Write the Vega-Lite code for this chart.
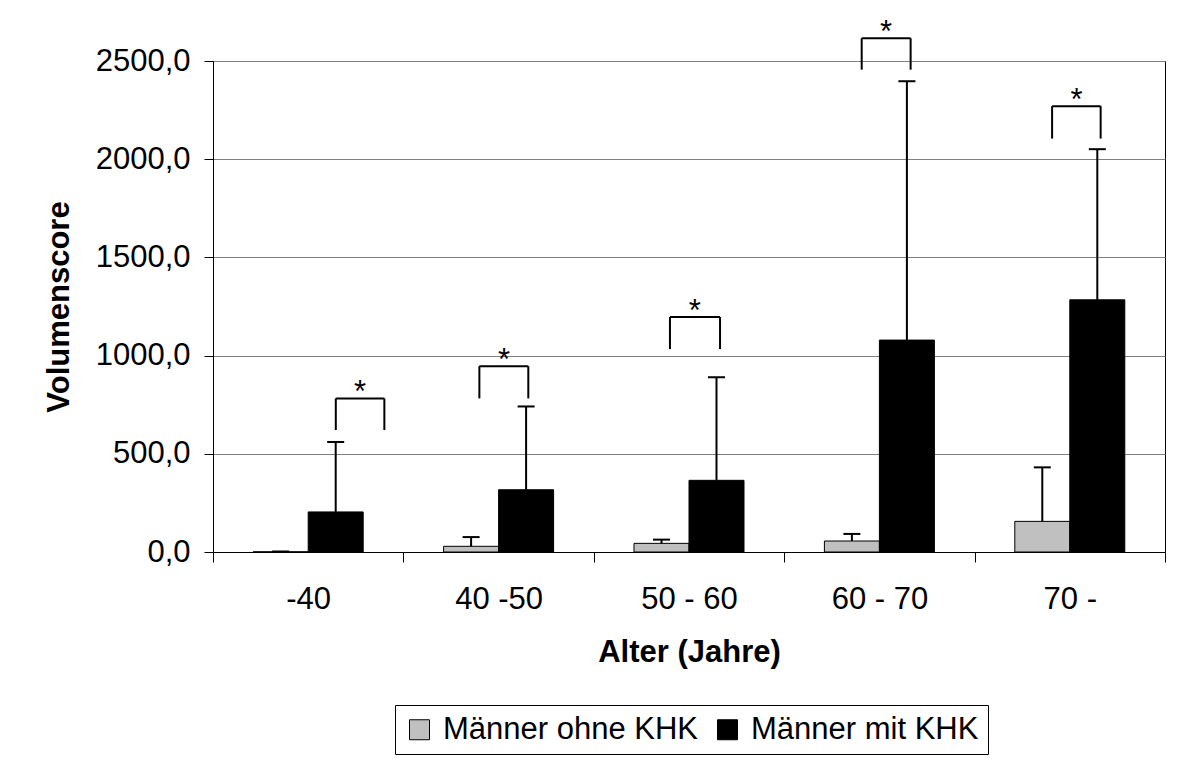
{
  "$schema": "https://vega.github.io/schema/vega-lite/v6.json",
  "width": 952,
  "height": 491,
  "autosize": "none",
  "padding": {"left": 213, "top": 61, "right": 12, "bottom": 213},
  "background": "white",
  "config": {
    "font": "Liberation Sans",
    "view": {"stroke": "#000", "strokeWidth": 1}
  },
  "datasets": {
    "bars": [
      {"age": "-40", "group": "Männer ohne KHK", "value": 1, "upper": 2},
      {"age": "-40", "group": "Männer mit KHK", "value": 204, "upper": 560},
      {"age": "40 -50", "group": "Männer ohne KHK", "value": 29, "upper": 76},
      {"age": "40 -50", "group": "Männer mit KHK", "value": 317, "upper": 741},
      {"age": "50 - 60", "group": "Männer ohne KHK", "value": 44, "upper": 63},
      {"age": "50 - 60", "group": "Männer mit KHK", "value": 365, "upper": 890},
      {"age": "60 - 70", "group": "Männer ohne KHK", "value": 56, "upper": 92},
      {"age": "60 - 70", "group": "Männer mit KHK", "value": 1079, "upper": 2397},
      {"age": "70 -", "group": "Männer ohne KHK", "value": 156, "upper": 431},
      {"age": "70 -", "group": "Männer mit KHK", "value": 1284, "upper": 2051}
    ],
    "sig": [
      {"age": "-40", "x1": 0.645, "x2": 0.9, "xs": 0.772, "top": 782, "bottom": 621, "label": "*"},
      {"age": "40 -50", "x1": 1.399, "x2": 1.656, "xs": 1.528, "top": 946, "bottom": 782, "label": "*"},
      {"age": "50 - 60", "x1": 2.4, "x2": 2.663, "xs": 2.531, "top": 1196, "bottom": 1033, "label": "*"},
      {"age": "60 - 70", "x1": 3.407, "x2": 3.664, "xs": 3.535, "top": 2616, "bottom": 2456, "label": "*"},
      {"age": "70 -", "x1": 4.407, "x2": 4.662, "xs": 4.535, "top": 2270, "bottom": 2105, "label": "*"}
    ]
  },
  "layer": [
    {
      "data": {"name": "bars"},
      "encoding": {
        "x": {
          "field": "age",
          "type": "nominal",
          "sort": ["-40", "40 -50", "50 - 60", "60 - 70", "70 -"],
          "scale": {"paddingInner": 0, "paddingOuter": 0},
          "axis": {
            "title": "Alter (Jahre)",
            "labelAngle": 0,
            "labelFontSize": 31,
            "labelColor": "#000",
            "tickSize": 10,
            "tickColor": "#000",
            "tickBand": "extent",
            "labelPadding": 22,
            "domainColor": "#000",
            "titleFontSize": 31,
            "titleFontWeight": "bold",
            "titleColor": "#000",
            "titlePadding": 23,
            "grid": false
          }
        },
        "xOffset": {
          "field": "group",
          "type": "nominal",
          "sort": ["Männer ohne KHK", "Männer mit KHK"],
          "scale": {"paddingInner": 0, "paddingOuter": 0.7309}
        }
      },
      "layer": [
        {
          "mark": {"type": "bar", "stroke": "#000", "strokeWidth": 1},
          "encoding": {
            "y": {
              "field": "value",
              "type": "quantitative",
              "scale": {"domain": [0, 2500], "nice": false},
              "axis": {
                "title": "Volumenscore",
                "values": [0, 500, 1000, 1500, 2000, 2500],
                "labelExpr": "replace(format(datum.value, '.1f'), '.', ',')",
                "labelFontSize": 31,
                "labelColor": "#000",
                "tickSize": 9,
                "tickColor": "#000",
                "labelPadding": 14,
                "domainColor": "#000",
                "grid": true,
                "gridColor": "#808080",
                "titleFontSize": 31,
                "titleFontWeight": "bold",
                "titleColor": "#000",
                "titlePadding": 20
              }
            },
            "color": {
              "field": "group",
              "type": "nominal",
              "scale": {"domain": ["Männer ohne KHK", "Männer mit KHK"], "range": ["#C0C0C0", "#000000"]},
              "legend": {
                "title": null,
                "orient": "none",
                "legendX": 182,
                "legendY": 644,
                "direction": "horizontal",
                "symbolType": "square",
                "symbolSize": 400,
                "symbolStrokeColor": "#000",
                "symbolStrokeWidth": 1,
                "symbolOpacity": 1,
                "labelFontSize": 31,
                "labelColor": "#000",
                "labelOffset": 8,
                "labelLimit": 0,
                "columnPadding": 13,
                "padding": 9,
                "strokeColor": "#000",
                "fillColor": "#fff"
              }
            }
          }
        },
        {
          "mark": {"type": "rule", "color": "#000", "strokeWidth": 2},
          "encoding": {
            "y": {"field": "value", "type": "quantitative"},
            "y2": {"field": "upper"}
          }
        },
        {
          "mark": {"type": "tick", "color": "#000", "thickness": 2, "size": 17, "opacity": 1},
          "encoding": {
            "y": {"field": "upper", "type": "quantitative"}
          }
        }
      ]
    },
    {
      "data": {"name": "sig"},
      "layer": [
        {
          "mark": {"type": "rule", "color": "#000", "strokeWidth": 2},
          "encoding": {
            "x": {"field": "x1", "type": "quantitative", "scale": {"domain": [0, 5], "nice": false, "zero": false}, "axis": null},
            "x2": {"field": "x2"},
            "y": {"field": "top", "type": "quantitative"}
          }
        },
        {
          "mark": {"type": "rule", "color": "#000", "strokeWidth": 2},
          "encoding": {
            "x": {"field": "x1", "type": "quantitative"},
            "y": {"field": "bottom", "type": "quantitative"},
            "y2": {"field": "top"}
          }
        },
        {
          "mark": {"type": "rule", "color": "#000", "strokeWidth": 2},
          "encoding": {
            "x": {"field": "x2", "type": "quantitative"},
            "y": {"field": "bottom", "type": "quantitative"},
            "y2": {"field": "top"}
          }
        },
        {
          "mark": {"type": "text", "fontSize": 31, "baseline": "alphabetic", "align": "center", "dy": 4, "color": "#000"},
          "encoding": {
            "x": {"field": "xs", "type": "quantitative"},
            "y": {"field": "top", "type": "quantitative"},
            "text": {"field": "label"}
          }
        }
      ]
    }
  ],
  "resolve": {"scale": {"x": "independent"}}
}
